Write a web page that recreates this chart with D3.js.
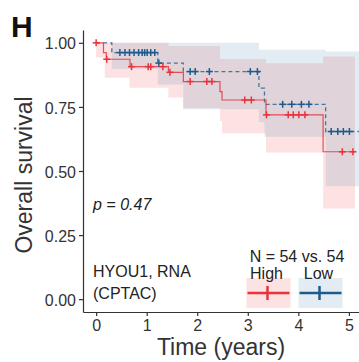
<!DOCTYPE html>
<html><head>
<script src="https://d3js.org/d3.v7.min.js"></script>
<style>
body { margin: 0; background: #fff; }
svg text { font-family: Arial, "Liberation Sans", Helvetica, sans-serif; fill: #333; }
</style>
</head><body>
<svg id="chart" width="359" height="362"></svg>
<script>
// High (red) KM curve: step times and survival after each step
var highTimes = [0, 0.145, 0.20, 0.67, 1.43, 1.725, 2.45, 2.49, 3.36, 4.49, 5.12];
var highSurv  = [1, 0.962, 0.936, 0.907, 0.885, 0.849, 0.81, 0.777, 0.719, 0.575, 0.575];
var highCensor = [0.0, 0.21, 0.70, 1.03, 1.08, 1.32, 1.46, 1.86, 2.19, 2.29, 2.94, 3.07, 3.37, 3.80, 3.90, 4.01, 4.13, 4.87, 5.08];
// High confidence band
var highBandTimes = [0, 0.17, 0.66, 1.43, 1.72, 2.45, 2.49, 3.36, 4.49, 5.12];
var highLower = [0.943, 0.864, 0.825, 0.787, 0.745, 0.695, 0.647, 0.572, 0.354, 0.354];
var highUpper = [1.0, 1.0, 1.0, 0.988, 0.988, 0.937, 0.937, 0.92, 0.947, 0.947];

// Low (blue) KM curve
var lowTimes = [0, 0.31, 1.22, 1.725, 3.22, 3.33, 4.54, 5.2];
var lowSurv  = [1, 0.962, 0.921, 0.888, 0.823, 0.76, 0.654, 0.654];
var lowCensor = [0.47, 0.57, 0.66, 0.75, 0.84, 0.91, 0.96, 1.01, 1.08, 1.16, 1.24, 1.86, 1.96, 2.24, 3.05, 3.19, 3.69, 3.87, 4.06, 4.21, 4.65, 4.78, 4.89, 5.01];
var lowBandTimes = [0.31, 1.22, 1.725, 3.22, 3.33, 4.54, 5.2];
var lowLower = [0.898, 0.837, 0.741, 0.69, 0.634, 0.441, 0.441];
var lowUpper = [1.0, 1.0, 1.0, 0.973, 0.973, 0.966, 0.966];

var xTicks = [0, 1, 2, 3, 4, 5];
var yTicks = [0, 0.25, 0.5, 0.75, 1];
var groups = ["High", "Low"];
var groupN = [54, 54];
var pText = "p = 0.47";
var geneText = ["HYOU1, RNA", "(CPTAC)"];

var red = "#e8333c", blue = "#1d5b8d";
var redFill = "rgba(240,60,70,0.15)", blueFill = "rgba(60,125,170,0.15)";

var svg = d3.select("#chart");
var x = d3.scaleLinear().domain([-0.26, 5.2]).range([83, 359]);
var y = d3.scaleLinear().domain([-0.05, 1.05]).range([312, 30]);

function zip(ts, a, b) {
  return ts.map(function(t, i) { return {t: t, a: a[i], b: b ? b[i] : null}; });
}
function survAt(ts, ss, t) {
  var s = ss[0];
  for (var i = 0; i < ts.length; i++) if (ts[i] <= t) s = ss[i];
  return s;
}

var area = d3.area().curve(d3.curveStepAfter)
  .x(function(d) { return x(d.t); })
  .y0(function(d) { return y(d.a); })
  .y1(function(d) { return y(d.b); });
var line = d3.line().curve(d3.curveStepAfter)
  .x(function(d) { return x(d.t); })
  .y(function(d) { return y(d.a); });

// bands
svg.append("path").datum(zip(highBandTimes, highLower, highUpper))
  .attr("d", area).attr("fill", redFill);
svg.append("path").datum(zip(lowBandTimes, lowLower, lowUpper))
  .attr("d", area).attr("fill", blueFill);

// curves
svg.append("path").datum(zip(lowTimes, lowSurv))
  .attr("d", line).attr("fill", "none").attr("stroke", "#4a7598")
  .attr("stroke-width", 1.3).attr("stroke-dasharray", "4,3");
svg.append("path").datum(zip(highTimes, highSurv))
  .attr("d", line).attr("fill", "none").attr("stroke", red)
  .attr("stroke-width", 1.2).attr("stroke-opacity", 0.85);

function censors(list, ts, ss, col) {
  var g = svg.append("g").attr("stroke", col).attr("stroke-width", 1.5);
  list.forEach(function(t) {
    var cx = x(t), cy = y(survAt(ts, ss, t));
    g.append("line").attr("x1", cx - 3.5).attr("x2", cx + 3.5).attr("y1", cy).attr("y2", cy);
    g.append("line").attr("x1", cx).attr("x2", cx).attr("y1", cy - 3.5).attr("y2", cy + 3.5);
  });
}
censors(lowCensor, lowTimes, lowSurv, blue);
censors(highCensor, highTimes, highSurv, red);

// axes
var yAxis = svg.append("g").attr("transform", "translate(83,0)")
  .call(d3.axisLeft(y).tickValues(yTicks).tickFormat(d3.format(".2f")).tickSize(4).tickPadding(3).tickSizeOuter(0));
var xAxis = svg.append("g").attr("transform", "translate(0,312)")
  .call(d3.axisBottom(x).tickValues(xTicks).tickFormat(d3.format("d")).tickSize(4).tickPadding(4).tickSizeOuter(0));
[yAxis, xAxis].forEach(function(a) {
  a.select(".domain").attr("stroke", "#333").attr("stroke-width", 1.2);
  a.selectAll(".tick line").attr("stroke", "#333").attr("stroke-width", 1.2);
  a.selectAll(".tick text").attr("font-size", 16).attr("font-family", null).style("fill", "#333");
});
yAxis.selectAll(".tick text").attr("dy", "0.38em");

// axis titles
svg.append("text").attr("x", 221).attr("y", 355).attr("text-anchor", "middle")
  .attr("font-size", 23).text("Time (years)");
svg.append("text").attr("transform", "translate(32,175) rotate(-90)")
  .attr("text-anchor", "middle").attr("font-size", 23).text("Overall survival");

// panel letter
svg.append("text").attr("x", 11).attr("y", 37).attr("font-size", 30)
  .attr("font-weight", "bold").style("fill", "#111").text("H");

// annotations
svg.append("text").attr("x", 93).attr("y", 210).attr("font-size", 16)
  .attr("font-style", "italic").style("fill", "#222").text(pText);
geneText.forEach(function(s, i) {
  svg.append("text").attr("x", 93).attr("y", 277 + i * 22).attr("font-size", 16)
    .style("fill", "#222").text(s);
});

// legend
svg.append("text").attr("x", 297).attr("y", 262).attr("text-anchor", "middle")
  .attr("font-size", 16).style("fill", "#222")
  .text("N = " + groupN[0] + " vs. " + groupN[1]);
var legX = [268.5, 320.5];
var legCol = [red, blue];
var legFill = [redFill, blueFill];
groups.forEach(function(g, i) {
  var cx = legX[i];
  svg.append("text").attr("x", cx - 2).attr("y", 279).attr("text-anchor", "middle")
    .attr("font-size", 16).style("fill", "#222").text(g);
  svg.append("rect").attr("x", cx - 22).attr("y", 278).attr("width", 44).attr("height", 30)
    .attr("fill", legFill[i]);
  svg.append("line").attr("x1", cx - 21).attr("x2", cx + 21).attr("y1", 293).attr("y2", 293)
    .attr("stroke", legCol[i]).attr("stroke-width", 2.5);
  svg.append("line").attr("x1", cx - 1).attr("x2", cx - 1).attr("y1", 286).attr("y2", 300)
    .attr("stroke", legCol[i]).attr("stroke-width", 2.5);
});
</script>
</body></html>
